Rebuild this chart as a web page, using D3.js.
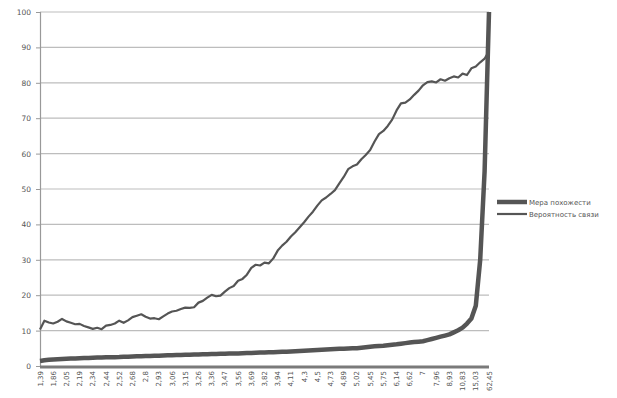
<!DOCTYPE html>
<html>
<head>
<meta charset="utf-8">
<script src="https://cdn.jsdelivr.net/npm/d3@7"></script>
<style>
  body { margin: 0; background: #fff; }
  text { font-family: "DejaVu Sans", sans-serif; fill: #555; }
</style>
</head>
<body>
<div id="chart"></div>
<script>
// Series names (legend)
const seriesNames = ['Мера похожести', 'Вероятность связи'];

// Category tick labels (every 3rd point)
const tickLabels = ['1,39', '1,86', '2,05', '2,19', '2,34', '2,44', '2,52', '2,68', '2,8', '2,93',
    '3,06', '3,15', '3,26', '3,36', '3,47', '3,56', '3,69', '3,82', '3,94', '4,11',
    '4,3', '4,5', '4,73', '4,89', '5,02', '5,45', '5,75', '6,14', '6,62', '7',
    '7,96', '8,93', '10,83', '15,03', '62,45'];

// Мера похожести
const similarity = [
    1.39, 1.6, 1.75, 1.86, 1.93, 2.0, 2.05, 2.1, 2.15, 2.19, 2.24, 2.29,
    2.34, 2.37, 2.41, 2.44, 2.47, 2.49, 2.52, 2.58, 2.63, 2.68, 2.72, 2.76,
    2.8, 2.84, 2.89, 2.93, 2.97, 3.02, 3.06, 3.09, 3.12, 3.15, 3.19, 3.22,
    3.26, 3.29, 3.33, 3.36, 3.4, 3.43, 3.47, 3.5, 3.53, 3.56, 3.6, 3.65,
    3.69, 3.73, 3.78, 3.82, 3.86, 3.9, 3.94, 4.0, 4.05, 4.11, 4.17, 4.23,
    4.3, 4.37, 4.43, 4.5, 4.58, 4.65, 4.73, 4.78, 4.84, 4.89, 4.93, 4.98,
    5.02, 5.16, 5.3, 5.45, 5.55, 5.65, 5.75, 5.88, 6.01, 6.14, 6.3, 6.46,
    6.62, 6.75, 6.87, 7.0, 7.3, 7.62, 7.96, 8.28, 8.6, 8.93, 9.5, 10.1,
    10.83, 12.0, 13.4, 17.0, 30.0, 55.0, 100
];

// Вероятность связи
const probability = [
    10.3, 12.8, 12.3, 12.0, 12.5, 13.3, 12.6, 12.2, 11.8, 11.9, 11.3, 10.9,
    10.5, 10.8, 10.4, 11.4, 11.6, 12.0, 12.8, 12.2, 12.9, 13.8, 14.2, 14.6,
    13.9, 13.4, 13.5, 13.2, 14.0, 14.8, 15.4, 15.6, 16.1, 16.5, 16.4, 16.6,
    17.9, 18.4, 19.3, 20.1, 19.7, 19.9, 21.0, 22.0, 22.6, 24.1, 24.6, 25.8,
    27.7, 28.6, 28.4, 29.2, 29.0, 30.4, 32.6, 34.0, 35.1, 36.6, 37.8, 39.2,
    40.6, 42.2, 43.6, 45.3, 46.8, 47.6, 48.6, 49.7, 51.6, 53.4, 55.6, 56.4,
    56.9, 58.4, 59.6, 61.0, 63.4, 65.5, 66.4, 67.8, 69.6, 72.2, 74.2, 74.4,
    75.3, 76.6, 77.8, 79.3, 80.2, 80.4, 80.1, 81.0, 80.6, 81.3, 81.8, 81.5,
    82.6, 82.2, 84.1, 84.6, 85.8, 86.8, 89.0
];

const yTicks = [0, 10, 20, 30, 40, 50, 60, 70, 80, 90, 100];

const width = 617, height = 398;
const plot = { left: 40, right: 489, top: 12, bottom: 366 };

const svg = d3.select('#chart')
    .append('svg')
    .attr('width', width)
    .attr('height', height);

const xScale = d3.scaleLinear()
    .domain([0, similarity.length - 1])
    .range([plot.left, plot.right]);

const yScale = d3.scaleLinear()
    .domain([0, 100])
    .range([plot.bottom, plot.top]);

// Gridlines
svg.append('g')
    .selectAll('line')
    .data(yTicks.filter(d => d > 0))
    .enter()
    .append('line')
    .attr('x1', plot.left)
    .attr('x2', plot.right)
    .attr('y1', d => yScale(d))
    .attr('y2', d => yScale(d))
    .attr('stroke', '#bdbdbd')
    .attr('stroke-width', 1.2);

// Y axis
const yAxis = svg.append('g')
    .attr('transform', `translate(${plot.left},0)`)
    .call(d3.axisLeft(yScale).tickValues(yTicks).tickSize(4).tickPadding(5));
yAxis.select('.domain').attr('stroke', '#999').attr('stroke-width', 1.2);
yAxis.selectAll('.tick line').attr('stroke', '#999');
yAxis.selectAll('.tick text').style('font-size', '7.5px').attr('fill', '#555');

// X axis (thick band + rotated labels)
const labelIdx = tickLabels.map((t, i) => i * 3);
svg.append('line')
    .attr('x1', plot.left)
    .attr('x2', plot.right)
    .attr('y1', plot.bottom + 1)
    .attr('y2', plot.bottom + 1)
    .attr('stroke', '#7a7a7a')
    .attr('stroke-width', 3);

svg.append('g')
    .selectAll('text')
    .data(tickLabels)
    .enter()
    .append('text')
    .attr('transform', (d, i) => `translate(${xScale(labelIdx[i]) + 2.5},${plot.bottom + 5}) rotate(-90)`)
    .attr('text-anchor', 'end')
    .style('font-size', '7px')
    .text(d => d);

// Lines
const line = d3.line()
    .x((d, i) => xScale(i))
    .y(d => yScale(d));

svg.append('path')
    .datum(probability)
    .attr('d', line)
    .attr('fill', 'none')
    .attr('stroke', '#555')
    .attr('stroke-width', 2.2)
    .attr('stroke-linejoin', 'round');

svg.append('path')
    .datum(similarity)
    .attr('d', line)
    .attr('fill', 'none')
    .attr('stroke', '#555')
    .attr('stroke-width', 4.5)
    .attr('stroke-linejoin', 'round');

// Legend
const legend = svg.append('g').attr('transform', 'translate(497,202)');
seriesNames.forEach((name, i) => {
    const g = legend.append('g').attr('transform', `translate(0,${i * 12})`);
    g.append('line')
        .attr('x1', 0).attr('x2', 30)
        .attr('stroke', '#555')
        .attr('stroke-width', i === 0 ? 4.5 : 2.2);
    g.append('text')
        .attr('x', 32)
        .attr('y', 2.5)
        .style('font-size', '7px')
        .text(name);
});
</script>
</body>
</html>
